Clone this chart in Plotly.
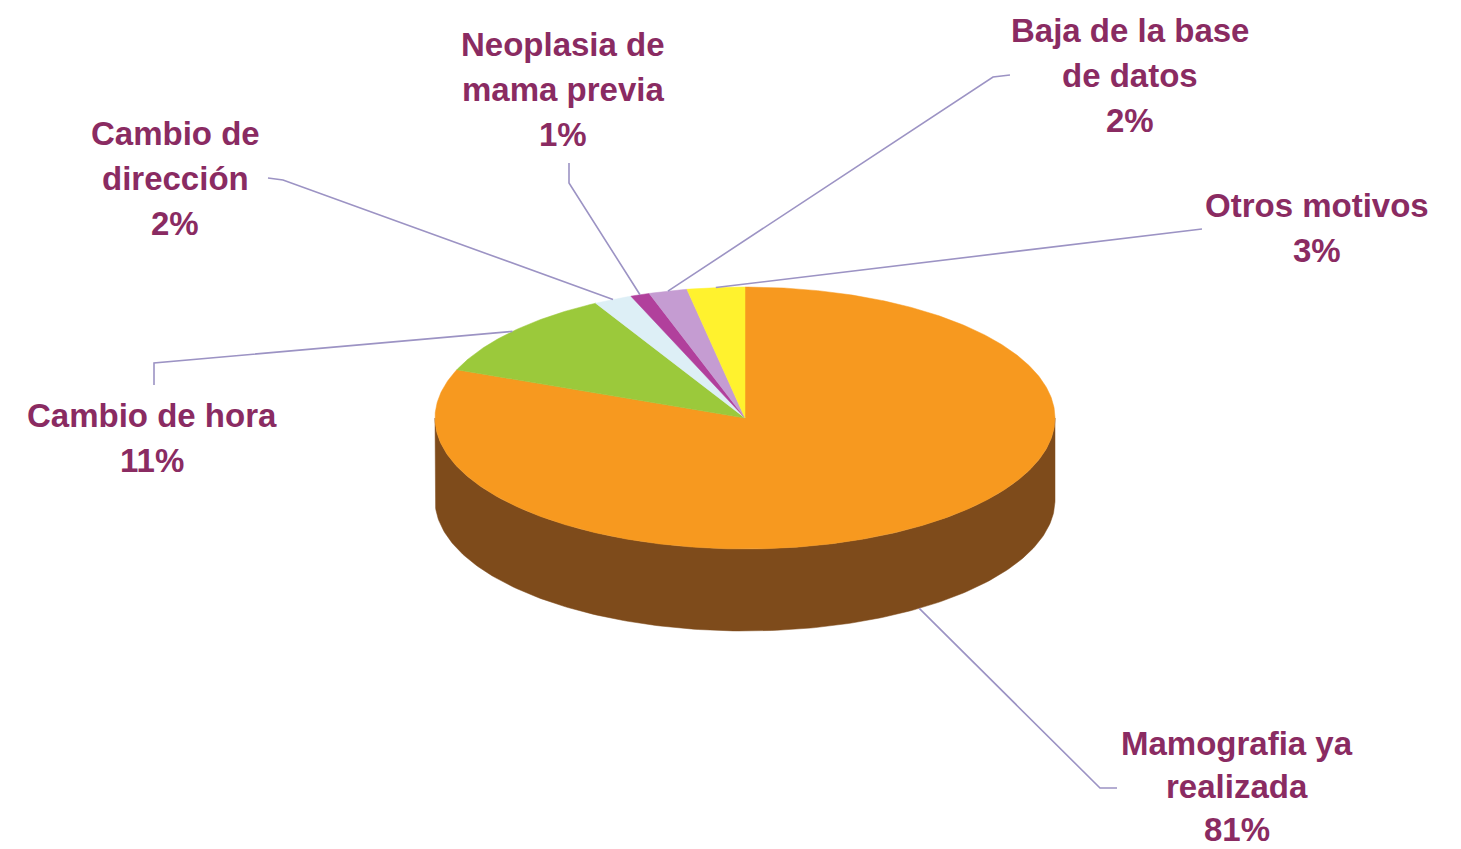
import numpy as np
import plotly.graph_objects as go

# ---------------- data ----------------
categories = ["Mamografia ya realizada", "Cambio de hora", "Cambio de dirección",
              "Neoplasia de mama previa", "Baja de la base de datos", "Otros motivos"]
values = [81, 11, 2, 1, 2, 3]
label_lines = [["Mamografia ya", "realizada"], ["Cambio de hora"], ["Cambio de", "dirección"],
               ["Neoplasia de", "mama previa"], ["Baja de la base", "de datos"], ["Otros motivos"]]

# ---------------- style / layout ----------------
top_colors = ["#F7991F", "#9BC93B", "#DDEFF6", "#B1409C", "#C59CD2", "#FFF22E"]
side_colors = ["#7E4B1B", "#5E7A24", "#8F9CA2", "#6E2761", "#7E6186", "#A39A1C"]
TEXT_COLOR = "#8A2B62"
LINE_COLOR = "#9C93C4"
FONT = "Liberation Sans, Arial, sans-serif"
FSIZE = 33
LINE_GAPS = [43, 45, 45, 45, 45, 45]

W, H = 1461, 849
CX, CY, RX, RY, DEPTH = 745, 418, 310, 131, 82

# label positions (center x, first line y) and leader elbows/ends
label_pos = [(1237, 743), (152, 415), (175, 133), (563, 44), (1130, 30), (1317, 205)]
leader_pts = [
    [(1100, 788), (1117, 788)],
    [(154, 363), (154, 385)],
    [(283, 180), (268, 178)],
    [(569, 183), (569, 163)],
    [(993, 77), (1010, 75)],
    [(1202, 229)],
]


def pt(theta_deg, dy=0.0):
    t = np.deg2rad(theta_deg)
    return CX + RX * np.sin(t), CY - RY * np.cos(t) + dy


total = float(sum(values))
bounds = np.concatenate([[0.0], np.cumsum(values) / total * 360.0])

fig = go.Figure()

# side walls (visible front half: 90..270 deg)
for i in range(len(values)):
    a0, a1 = max(bounds[i], 90.0), min(bounds[i + 1], 270.0)
    if a1 <= a0:
        continue
    th = np.linspace(a0, a1, 200)
    xt, yt = pt(th)
    xb, yb = pt(th[::-1], DEPTH)
    fig.add_trace(go.Scatter(x=np.concatenate([xt, xb, xt[:1]]),
                             y=np.concatenate([yt, yb, yt[:1]]),
                             mode="lines", fill="toself", fillcolor=side_colors[i],
                             line=dict(color=side_colors[i], width=0.5),
                             hoverinfo="skip", showlegend=False))

# top face slices
for i in range(len(values)):
    th = np.linspace(bounds[i], bounds[i + 1], max(4, int(values[i] * 8)))
    xs, ys = pt(th)
    fig.add_trace(go.Scatter(x=np.concatenate([[CX], xs, [CX]]),
                             y=np.concatenate([[CY], ys, [CY]]),
                             mode="lines", fill="toself", fillcolor=top_colors[i],
                             line=dict(color=top_colors[i], width=0.5),
                             name=categories[i], hoverinfo="name", showlegend=False))

# leader lines
for i in range(len(values)):
    mid = (bounds[i] + bounds[i + 1]) / 2.0
    on_front = 90.0 < mid < 270.0
    sx, sy = pt(mid, DEPTH if on_front else 0.0)
    xs = [sx] + [p[0] for p in leader_pts[i]]
    ys = [sy] + [p[1] for p in leader_pts[i]]
    fig.add_trace(go.Scatter(x=xs, y=ys, mode="lines",
                             line=dict(color=LINE_COLOR, width=1.6),
                             hoverinfo="skip", showlegend=False))

# labels
for i in range(len(values)):
    lx, ly = label_pos[i]
    lines = label_lines[i] + [f"{values[i]}%"]
    for k, txt in enumerate(lines):
        fig.add_annotation(x=lx, y=ly + k * LINE_GAPS[i], text=f"<b>{txt}</b>",
                           showarrow=False, xanchor="center", yanchor="middle",
                           font=dict(family=FONT, size=FSIZE, color=TEXT_COLOR))

fig.update_layout(
    width=W, height=H, margin=dict(l=0, r=0, t=0, b=0),
    paper_bgcolor="#FFFFFF", plot_bgcolor="#FFFFFF",
    xaxis=dict(range=[0, W], visible=False, fixedrange=True),
    yaxis=dict(range=[H, 0], visible=False, fixedrange=True),
    showlegend=False,
)

fig.write_html(
    "out.html",
    config={"displayModeBar": False},
    post_script="document.body.style.margin='0';document.body.style.overflow='hidden';",
)
